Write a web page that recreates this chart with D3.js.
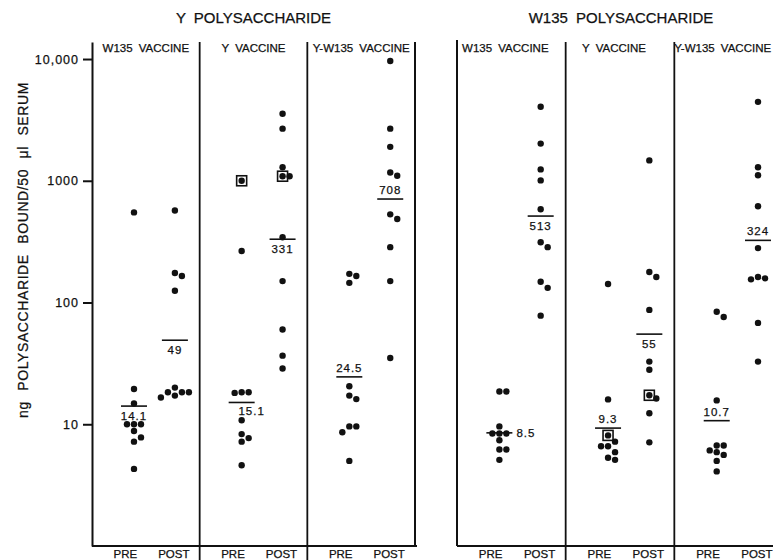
<!DOCTYPE html>
<html>
<head>
<meta charset="utf-8">
<script src="https://cdn.jsdelivr.net/npm/d3@7/dist/d3.min.js"></script>
<style>
    body { margin: 0; background: #fff; }
    svg text { font-family: "Liberation Sans", Arial, sans-serif; fill: #111; stroke: #111; stroke-width: 0.25px; }
</style>
</head>
<body>
<script>
// titles and categories
const panelTitles = ['Y POLYSACCHARIDE', 'W135 POLYSACCHARIDE'];
const vaccines = ['W135 VACCINE', 'Y VACCINE', 'Y-W135 VACCINE'];
const phases = ['PRE', 'POST'];
const tickValues = [10, 100, 1000, 10000];
const tickLabels = ['10', '100', '1000', '10,000'];
const yLabel = 'ng POLYSACCHARIDE BOUND/50 μl SERUM';

// Y polysaccharide, ng bound per 50 ul serum
const yPolyW135Pre = [550, 19.5, 14.8, 10, 10, 10, 8.8, 7.8, 7.2, 4.3];
const yPolyW135Post = [570, 175, 165, 125, 20, 18.3, 18.3, 18.3, 17.2, 16.6];
const yPolyYPre = [1000, 265, 18.3, 18.3, 18.1, 10.8, 8.3, 7.7, 7.2, 4.6];
const yPolyYPost = [3550, 2680, 1290, 1090, 1090, 344, 150, 60, 36.6, 28.7];
const yPolyBothPre = [172, 165, 145, 20.5, 17.2, 16.1, 9.6, 9.6, 8.6, 5.0];
const yPolyBothPost = [9640, 2680, 1900, 1170, 1100, 530, 485, 285, 150, 35];

// W135 polysaccharide
const w135PolyW135Pre = [18.6, 18.6, 9.6, 8.4, 8.4, 8.4, 7.4, 6.2, 6.2, 5.1];
const w135PolyW135Post = [4050, 2020, 1240, 1007, 583, 313, 285, 148, 132, 78];
const w135PolyYPre = [142, 16, 8.1, 7.2, 6.6, 6.6, 5.9, 5.3, 5.1];
const w135PolyYPost = [1470, 178, 162, 87, 32.7, 28, 17.3, 16.3, 12.3, 7.1];
const w135PolyBothPre = [84, 76, 15.7, 6.7, 6.7, 6.1, 5.9, 5.6, 5.0, 4.1];
const w135PolyBothPost = [4450, 1290, 1110, 617, 280, 162, 158, 155, 68, 32.7];

// geometric means and where their number sits
const yPolyMeans = [14.1, 49, 15.1, 331, 24.5, 708];
const w135PolyMeans = [8.5, 513, 9.3, 55, 10.7, 324];
const yPolyLabelSide = ['below', 'below', 'belowright', 'below', 'above', 'above'];
const w135PolyLabelSide = ['right', 'below', 'above', 'below', 'above', 'above'];

// boxed sera: panel, vaccine, phase, value
const boxedPoints = [
    [0, 'Y VACCINE', 'PRE', 1000],
    [0, 'Y VACCINE', 'POST', 1090],
    [1, 'Y VACCINE', 'PRE', 8.1],
    [1, 'Y VACCINE', 'POST', 17.3]
];

const width = 773;
const height = 560;
const radius = 3.2;

const svg = d3.select('body')
    .append('svg')
    .attr('width', width)
    .attr('height', height);

const y = d3.scaleLog()
    .domain([1, 13800])
    .range([546, 42]);

const panelRanges = [[92, 415], [457, 783]];
const x = panelRanges.map(r => d3.scaleBand().domain(vaccines).range(r));
// column position inside a vaccine band, as a share of the band
const inner = d3.scalePoint().domain(phases).range([0.39, 0.77]);
const labelInner = d3.scalePoint().domain(phases).range([0.31, 0.76]);

const panelValues = [
    [yPolyW135Pre, yPolyW135Post, yPolyYPre, yPolyYPost, yPolyBothPre, yPolyBothPost],
    [w135PolyW135Pre, w135PolyW135Post, w135PolyYPre, w135PolyYPost, w135PolyBothPre, w135PolyBothPost]
];
const panelMeans = [yPolyMeans, w135PolyMeans];
const panelSides = [yPolyLabelSide, w135PolyLabelSide];

const columns = [];
panelValues.forEach((list, p) => {
    list.forEach((values, i) => {
        columns.push({
            panel: p,
            vaccine: vaccines[Math.floor(i / 2)],
            phase: phases[i % 2],
            values: values,
            mean: panelMeans[p][i],
            side: panelSides[p][i]
        });
    });
});

function colX(c) {
    const band = x[c.panel];
    return band(c.vaccine) + inner(c.phase) * band.bandwidth();
}

/**
 * spread dots sideways when they would overlap
 *
 * @param {Object} c column
 * @return {Array} points
 */
function dodge(c) {
    const cx = colX(c);
    const step = radius * 2 + 0.6;
    const placed = [];
    const boxes = boxedPoints.filter(b => b[0] === c.panel && b[1] === c.vaccine && b[2] === c.phase);
    const sorted = c.values.map(v => ({v: v, y: y(v)})).sort((a, b) => a.y - b.y);
    sorted.forEach(p => {
        for (let k = 0; k < 30; k++) {
            const px = cx + (k % 2 ? 1 : -1) * Math.ceil(k / 2) * step;
            const hit = placed.some(q => (q.x - px) ** 2 + (q.y - p.y) ** 2 < (radius * 2) ** 2);
            if (!hit) {
                p.x = px;
                break;
            }
        }
        const bi = boxes.findIndex(b => b[3] === p.v);
        if (bi >= 0) {
            p.boxed = true;
            boxes.splice(bi, 1);
        }
        placed.push(p);
    });
    return placed;
}

const ink = '#111';

// panel titles
panelTitles.forEach((t, p) => {
    svg.append('text')
        .attr('x', (panelRanges[p][0] + panelRanges[p][1]) / 2 + (p ? 1 : 0))
        .attr('y', 23)
        .attr('text-anchor', 'middle')
        .attr('font-size', '15px')
        .attr('word-spacing', '4px')
        .text(t);
});

// vaccine headers
x.forEach((band, p) => {
    svg.append('g')
        .selectAll('text')
        .data(vaccines)
        .join('text')
        .attr('x', d => band(d) + band.bandwidth() / 2 - (p ? 6 : 0))
        .attr('y', 52)
        .attr('text-anchor', 'middle')
        .attr('font-size', '11.5px')
        .attr('word-spacing', '3px')
        .text(d => d);

    // PRE / POST under each column
    const g = svg.append('g');
    vaccines.forEach(v => {
        g.selectAll(null)
            .data(phases)
            .join('text')
            .attr('x', d => band(v) + labelInner(d) * band.bandwidth())
            .attr('y', 558)
            .attr('text-anchor', 'middle')
            .attr('font-size', '11.5px')
            .text(d => d);
    });
});

// y axis
const axis = svg.append('g')
    .attr('transform', `translate(${panelRanges[0][0]},0)`)
    .call(d3.axisLeft(y)
        .tickValues(tickValues)
        .tickFormat((d, i) => tickLabels[i])
        .tickSize(9)
        .tickSizeOuter(0)
        .tickPadding(4));
axis.selectAll('path, line').attr('stroke', ink).attr('stroke-width', 2);
axis.selectAll('text')
    .attr('font-family', '"Liberation Sans", Arial, sans-serif')
    .attr('font-size', '12.5px')
    .attr('letter-spacing', '1px');

svg.append('text')
    .attr('transform', 'translate(28,250) rotate(-90)')
    .attr('text-anchor', 'middle')
    .attr('font-size', '14px')
    .attr('letter-spacing', '0.6px')
    .attr('word-spacing', '6px')
    .text(yLabel);

// frame lines
x.forEach((band, p) => {
    const [x0, x1] = panelRanges[p];
    svg.append('line')
        .attr('x1', x0).attr('x2', Math.min(x1 + 2, width))
        .attr('y1', y(1)).attr('y2', y(1))
        .attr('stroke', ink).attr('stroke-width', 2);
    if (p === 1) {
        svg.append('line')
            .attr('x1', x0).attr('x2', x0)
            .attr('y1', y(13800) - 2).attr('y2', y(1))
            .attr('stroke', ink).attr('stroke-width', 2);
    }
    // dividers between vaccines reach below the base line
    vaccines.slice(1).forEach(v => {
        svg.append('line')
            .attr('x1', band(v)).attr('x2', band(v))
            .attr('y1', y(13800)).attr('y2', height)
            .attr('stroke', ink).attr('stroke-width', 1.8);
    });
    if (x1 < width) {
        svg.append('line')
            .attr('x1', x1).attr('x2', x1)
            .attr('y1', y(13800)).attr('y2', y(1))
            .attr('stroke', ink).attr('stroke-width', 2);
    }
});

// dots, boxes, mean lines
columns.forEach(c => {
    const g = svg.append('g');
    const pts = dodge(c);
    g.selectAll('circle')
        .data(pts)
        .join('circle')
        .attr('cx', d => d.x)
        .attr('cy', d => d.y)
        .attr('r', radius)
        .attr('fill', ink);
    g.selectAll('rect')
        .data(pts.filter(d => d.boxed))
        .join('rect')
        .attr('x', d => d.x - 5)
        .attr('y', d => d.y - 5)
        .attr('width', 10)
        .attr('height', 10)
        .attr('fill', 'none')
        .attr('stroke', ink)
        .attr('stroke-width', 1.6);

    const cx = colX(c);
    const my = y(c.mean);
    g.append('line')
        .attr('x1', cx - 13).attr('x2', cx + 13)
        .attr('y1', my).attr('y2', my)
        .attr('stroke', ink)
        .attr('stroke-width', 1.6);

    const label = g.append('text')
        .attr('font-size', '11.5px')
        .attr('letter-spacing', '1px')
        .text(String(c.mean));
    if (c.side === 'above') {
        label.attr('x', cx).attr('y', my - 5).attr('text-anchor', 'middle');
    }
    else if (c.side === 'below') {
        label.attr('x', cx).attr('y', my + 14).attr('text-anchor', 'middle');
    }
    else if (c.side === 'belowright') {
        label.attr('x', cx + 10).attr('y', my + 13).attr('text-anchor', 'middle');
    }
    else {
        label.attr('x', cx + 17).attr('y', my + 4).attr('text-anchor', 'start');
    }
});
</script>
</body>
</html>
